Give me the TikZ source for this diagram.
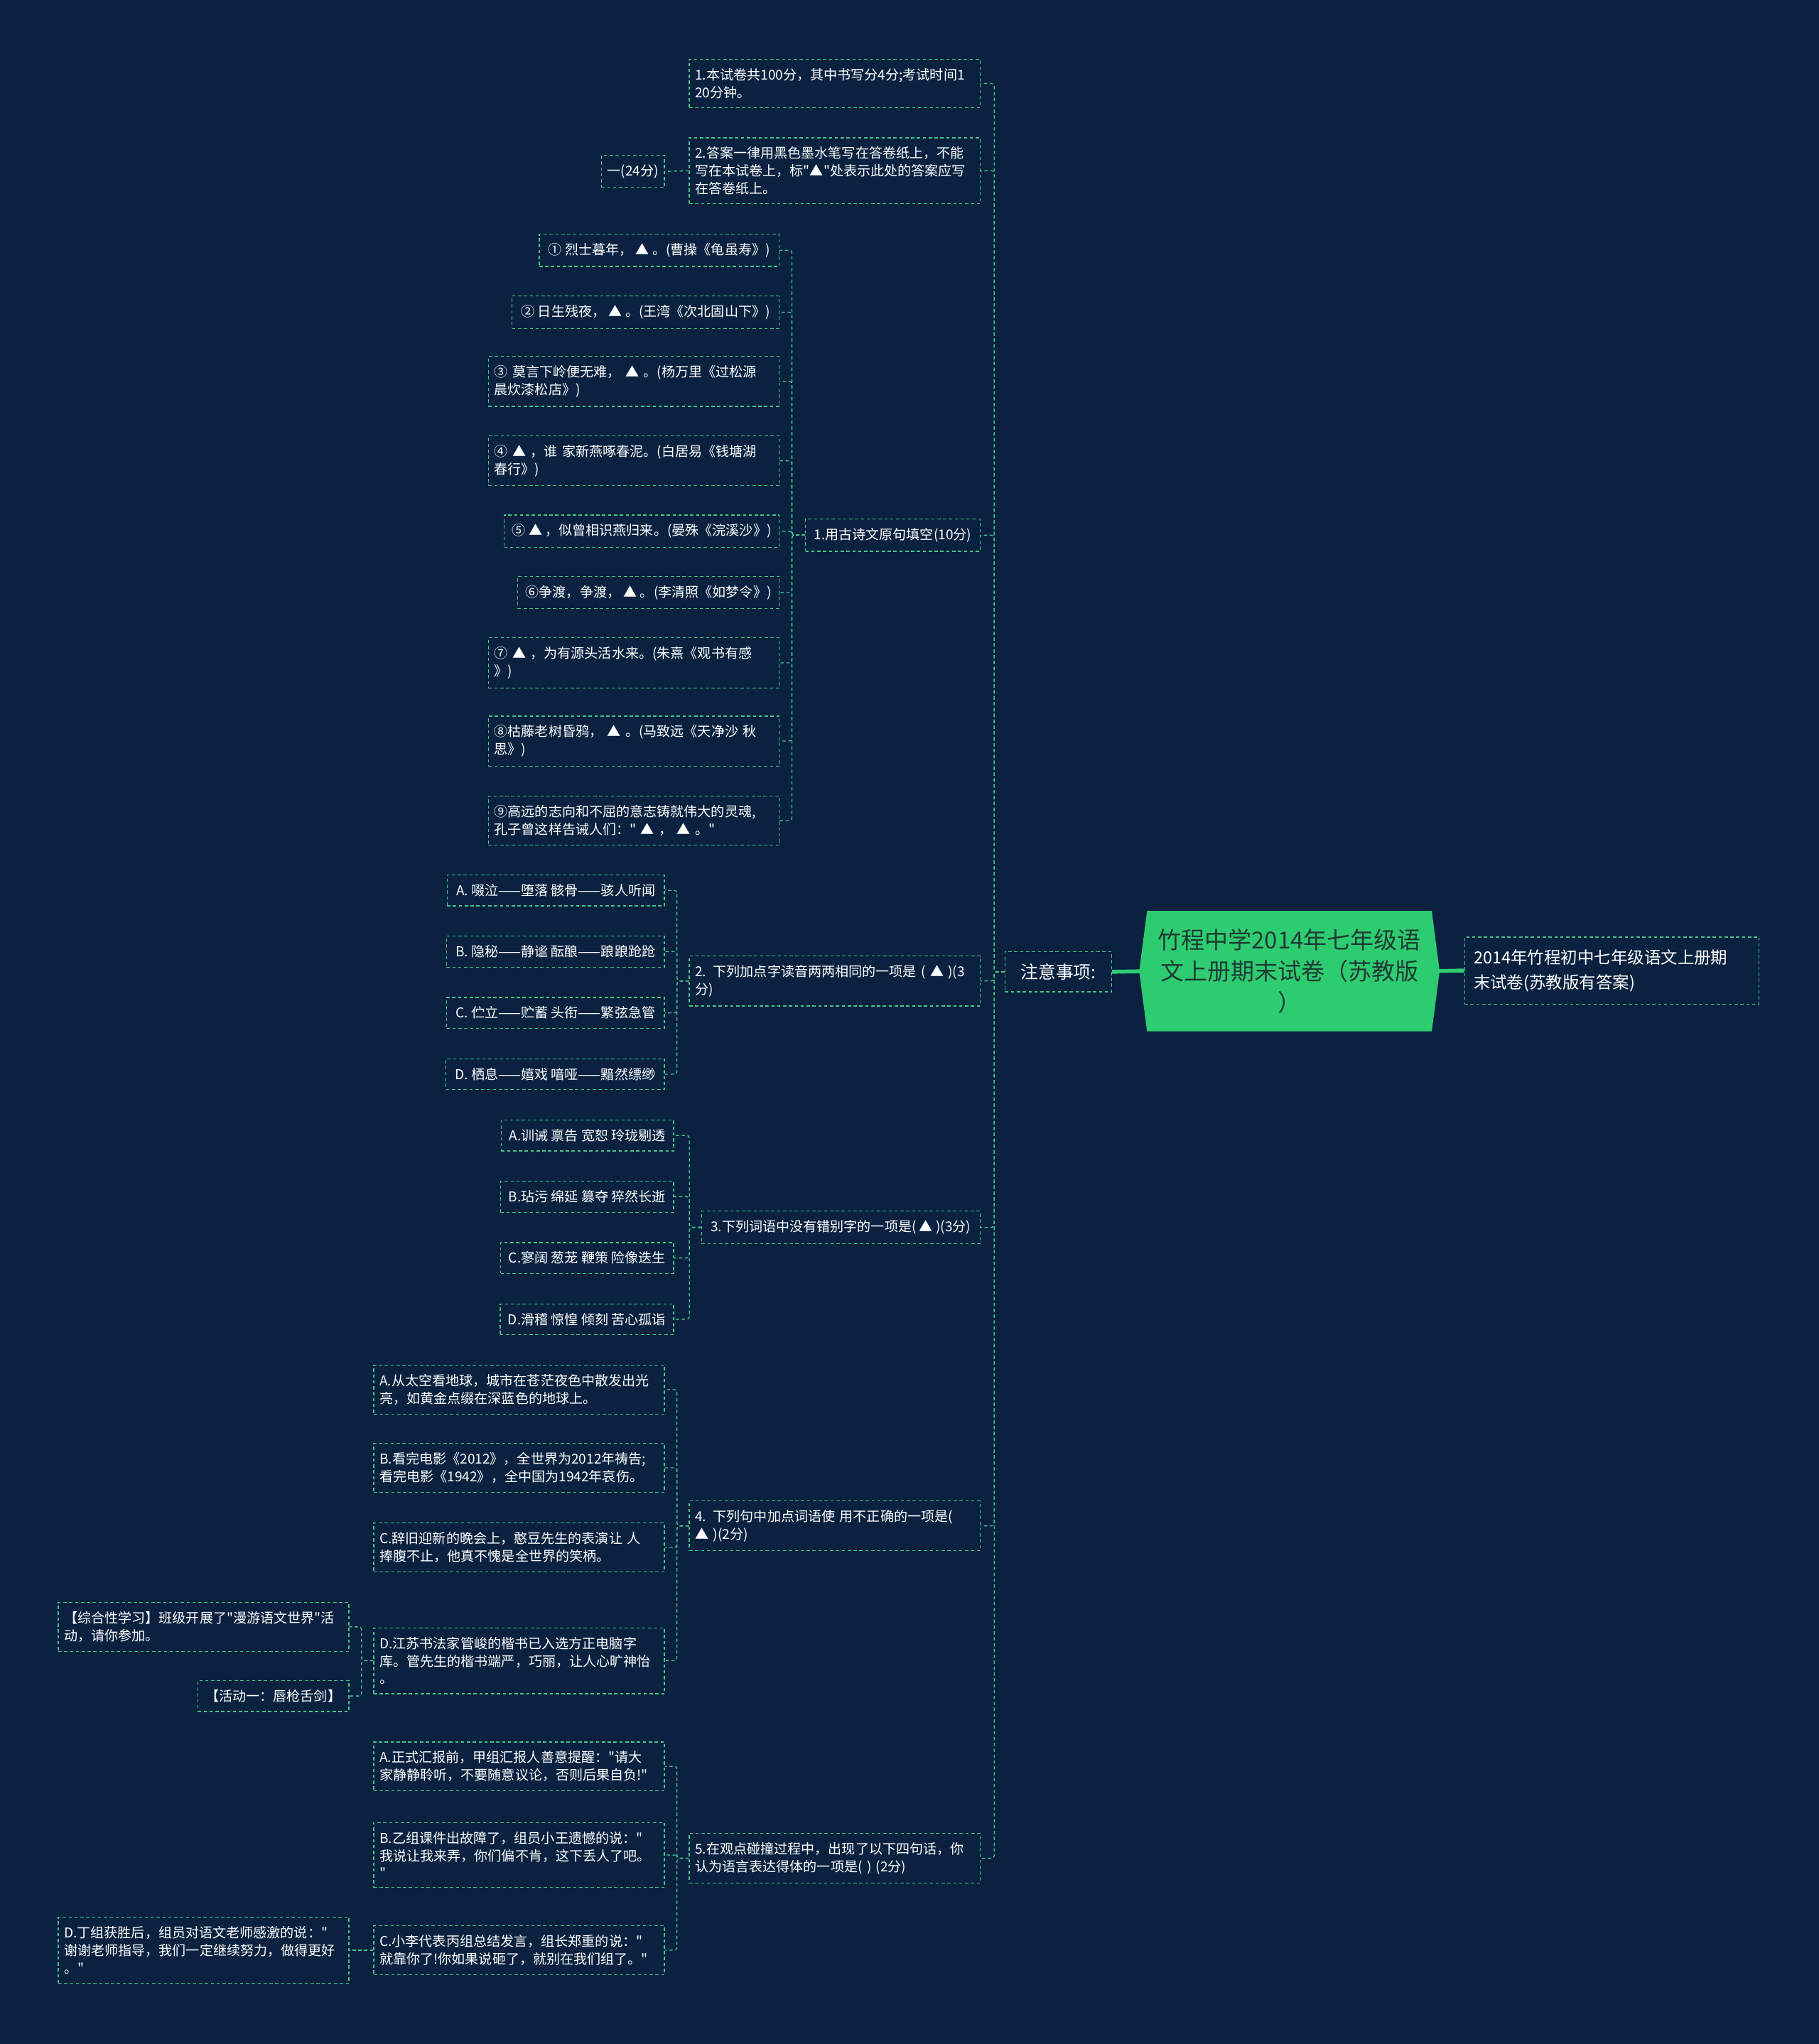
\documentclass[tikz,border=0pt]{standalone}
\usepackage{fontspec}
\setmainfont{Noto Sans CJK SC}[Ligatures=TeXOff]
\usetikzlibrary{calc,backgrounds}

\definecolor{bgnavy}{HTML}{0A2240}
\definecolor{linegreen}{HTML}{45C486}
\definecolor{rootgreen}{HTML}{2ECC71}
\definecolor{roottext}{HTML}{1E3A34}

\tikzset{
  leaf/.style={draw=linegreen, line width=0.7pt, dash pattern=on 2.5pt off 2pt, text=white,
    font=\fontsize{10.4}{13.5}\selectfont, align=left, inner xsep=4.5pt, inner ysep=7pt, anchor=east},
  wideleaf/.style={leaf, text width=214pt},
  rootbox/.style={minimum width=218pt, minimum height=92pt, inner sep=0pt, text=roottext,
    font=\fontsize{18}{24}\selectfont, align=center},
  link/.style={draw=linegreen, line width=0.7pt, dash pattern=on 2.5pt off 2pt, rounded corners=2pt},
  mainlink/.style={draw=rootgreen, line width=3pt}
}

\begin{document}
\begin{tikzpicture}[x=1pt, y=-1pt]
    % centre and right side
    \node [rootbox] (root) at (989,745) {竹程中学2014年七年级语\\文上册期末试卷（苏教版\\）};
    \node [leaf, anchor=west, text width=212pt, inner xsep=7pt, inner ysep=9.5pt, font=\fontsize{12.8}{19}\selectfont] (title) at (1123,744.5) {2014年竹程初中七年级语文上册期\\末试卷(苏教版有答案)};
    \node [leaf, inner xsep=12pt, inner ysep=9pt, font=\fontsize{13.5}{16}\selectfont] (zhuyi) at (853,745.5) {注意事项:};

    \begin{scope}[on background layer]
        \fill [bgnavy] (0,0) rectangle (1395,1568);
        \fill [rootgreen] (root.north west) -- (root.north east) -- ($(root.east)+(6,0)$) -- (root.south east)
            -- (root.south west) -- ($(root.west)+(-6,0)$) -- cycle;
    \end{scope}

    % first level
    \node [wideleaf] (q1) at (752,64) {1.本试卷共100分，其中书写分4分;考试时间1\\20分钟。};
    \node [wideleaf] (q2) at (752,131) {2.答案一律用黑色墨水笔写在答卷纸上，不能\\写在本试卷上，标"▲"处表示此处的答案应写\\在答卷纸上。};
    \node [leaf, inner xsep=6.5pt] (q3) at (752,410.5) {1.用古诗文原句填空(10分)};
    \node [wideleaf] (q4) at (752,752.5) {2. 下列加点字读音两两相同的一项是 ( ▲ )(3\\分)};
    \node [leaf, inner xsep=7pt] (q5) at (752,941.5) {3.下列词语中没有错别字的一项是( ▲ )(3分)};
    \node [wideleaf] (q6) at (752,1170.5) {4. 下列句中加点词语使 用不正确的一项是(\\▲ )(2分)};
    \node [wideleaf] (q7) at (752,1425.5) {5.在观点碰撞过程中，出现了以下四句话，你\\认为语言表达得体的一项是( ) (2分)};

    \node [leaf] (yi) at (510,131.5) {一(24分)};

    % poems
    \node [leaf, inner xsep=7pt] (s1) at (598,192) {① 烈士暮年， ▲ 。(曹操《龟虽寿》)};
    \node [leaf, inner xsep=7pt] (s2) at (598,239.5) {② 日生残夜， ▲ 。(王湾《次北固山下》)};
    \node [wideleaf] (s3) at (598,292.5) {③ 莫言下岭便无难， ▲ 。(杨万里《过松源\\晨炊漆松店》)};
    \node [wideleaf] (s4) at (598,353.5) {④ ▲ ，谁 家新燕啄春泥。(白居易《钱塘湖\\春行》)};
    \node [leaf, inner xsep=6pt] (s5) at (598,407.5) {⑤ ▲ ，似曾相识燕归来。(晏殊《浣溪沙》)};
    \node [leaf, inner xsep=6pt] (s6) at (598,454.5) {⑥争渡，争渡， ▲ 。(李清照《如梦令》)};
    \node [wideleaf] (s7) at (598,508.5) {⑦ ▲ ，为有源头活水来。(朱熹《观书有感\\》)};
    \node [wideleaf] (s8) at (598,568.5) {⑧枯藤老树昏鸦， ▲ 。(马致远《天净沙 秋\\思》)};
    \node [wideleaf] (s9) at (598,629.5) {⑨高远的志向和不屈的意志铸就伟大的灵魂,\\孔子曾这样告诫人们：" ▲ ， ▲ 。"};

    % question 2
    \node [leaf, inner xsep=7pt] (q4a) at (510,683) {A. 啜泣——堕落 骸骨——骇人听闻};
    \node [leaf, inner xsep=7pt] (q4b) at (510,730) {B. 隐秘——静谧 酝酿——踉踉跄跄};
    \node [leaf, inner xsep=7pt] (q4c) at (510,777) {C. 伫立——贮蓄 头衔——繁弦急管};
    \node [leaf, inner xsep=7pt] (q4d) at (510,824) {D. 栖息——嬉戏 喑哑——黯然缥缈};

    % question 3
    \node [leaf, inner xsep=6pt] (q5a) at (517,871) {A.训诫 禀告 宽恕 玲珑剔透};
    \node [leaf, inner xsep=6pt] (q5b) at (517,918) {B.玷污 绵延 篡夺 猝然长逝};
    \node [leaf, inner xsep=6pt] (q5c) at (517,965) {C.寥阔 葱茏 鞭策 险像迭生};
    \node [leaf, inner xsep=6pt] (q5d) at (517,1012) {D.滑稽 惊惶 倾刻 苦心孤诣};

    % question 4
    \node [wideleaf] (q6a) at (510,1066) {A.从太空看地球，城市在苍茫夜色中散发出光\\亮，如黄金点缀在深蓝色的地球上。};
    \node [wideleaf] (q6b) at (510,1126) {B.看完电影《2012》，全世界为2012年祷告;\\看完电影《1942》，全中国为1942年哀伤。};
    \node [wideleaf] (q6c) at (510,1187) {C.辞旧迎新的晚会上，憨豆先生的表演让 人\\捧腹不止，他真不愧是全世界的笑柄。};
    \node [wideleaf] (q6d) at (510,1274) {D.江苏书法家管峻的楷书已入选方正电脑字\\库。管先生的楷书端严，巧丽，让人心旷神怡\\。};
    \node [wideleaf] (q6da) at (268,1248) {【综合性学习】班级开展了"漫游语文世界"活\\动，请你参加。};
    \node [leaf, inner xsep=6pt] (q6db) at (268,1301) {【活动一：唇枪舌剑】};

    % question 5
    \node [wideleaf] (q7a) at (510,1355) {A.正式汇报前，甲组汇报人善意提醒："请大\\家静静聆听，不要随意议论，否则后果自负!"};
    \node [wideleaf] (q7b) at (510,1423) {B.乙组课件出故障了，组员小王遗憾的说："\\我说让我来弄，你们偏不肯，这下丢人了吧。\\"};
    \node [wideleaf] (q7c) at (510,1496) {C.小李代表丙组总结发言，组长郑重的说："\\就靠你了!你如果说砸了，就别在我们组了。"};
    \node [wideleaf] (q7ca) at (268,1496) {D.丁组获胜后，组员对语文老师感激的说："\\谢谢老师指导，我们一定继续努力，做得更好\\。"};

    % connectors
    \draw [mainlink] (zhuyi.east) -- (root.west);
    \draw [mainlink] (root.east) -- (title.west);
    \foreach \n in {q1,q2,q3,q4,q5,q6,q7}
        \draw [link] (zhuyi.west) -- ++(-8,0) |- (\n.east);
    \draw [link] (q2.west) -- (yi.east);
    \foreach \i in {1,...,9}
        \draw [link] (q3.west) -- ++(-10,0) |- (s\i.east);
    \foreach \i in {a,b,c,d} {
        \draw [link] (q4.west) -- ++(-9,0) |- (q4\i.east);
        \draw [link] (q5.west) -- ++(-9,0) |- (q5\i.east);
        \draw [link] (q6.west) -- ++(-9,0) |- (q6\i.east);
    }
    \foreach \i in {a,b,c}
        \draw [link] (q7.west) -- ++(-9,0) |- (q7\i.east);
    \foreach \i in {a,b}
        \draw [link] (q6d.west) -- ++(-9,0) |- (q6d\i.east);
    \draw [link] (q7c.west) -- (q7ca.east);
\end{tikzpicture}
\end{document}
